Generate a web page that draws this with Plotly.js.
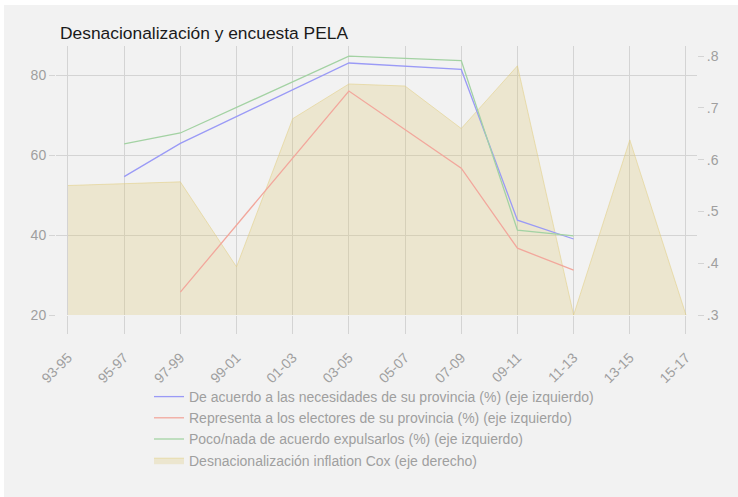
<!DOCTYPE html>
<html>
<head>
<meta charset="utf-8">
<script src="https://cdn.plot.ly/plotly-3.0.1.min.js"></script>
<style>
  html, body { margin:0; padding:0; background:#ffffff; }
  #chart { position:absolute; left:4px; top:5px; width:734px; height:492px; }
</style>
</head>
<body>
<div id="chart"></div>
<script>
const categories = ['93-95','95-97','97-99','99-01','01-03','03-05','05-07','07-09','09-11','11-13','13-15','15-17'];
const necesidades = [null, 54.6, 62.9, null, null, 83.0, null, 81.4, 43.7, 39.0, null, null];
const electores   = [null, null, 25.7, null, null, 76.0, null, 56.7, 36.7, 31.2, null, null];
const expulsarlos = [null, 62.8, 65.5, null, null, 84.7, null, 83.6, 41.2, 39.8, null, null];
const cox = [0.550, 0.554, 0.557, 0.393, 0.679, 0.746, 0.742, 0.660, 0.781, 0.300, 0.638, 0.300];

const leftTicks = [20, 40, 60, 80];
const leftTickText = ['20', '40', '60', '80'];
const rightTicks = [0.3, 0.4, 0.5, 0.6, 0.7, 0.8];
const rightTickText = ['.3', '.4', '.5', '.6', '.7', '.8'];

const names = [
  'De acuerdo a las necesidades de su provincia (%) (eje izquierdo)',
  'Representa a los electores de su provincia (%) (eje izquierdo)',
  'Poco/nada de acuerdo expulsarlos (%) (eje izquierdo)',
  'Desnacionalización inflation Cox (eje derecho)'
];

const FONT = 'Liberation Sans, Arial, sans-serif';
const GRID = '#d4d4d4';
const TXT = '#9f9f9f';

const traces = [
  {x: categories, y: necesidades, name: names[0], type: 'scatter', mode: 'lines',
   connectgaps: true, yaxis: 'y2', line: {color: '#9a9af6', width: 1.3}},
  {x: categories, y: electores, name: names[1], type: 'scatter', mode: 'lines',
   connectgaps: true, yaxis: 'y2', line: {color: '#f2a79c', width: 1.3}},
  {x: categories, y: expulsarlos, name: names[2], type: 'scatter', mode: 'lines',
   connectgaps: true, yaxis: 'y2', line: {color: '#a3d2a3', width: 1.3}},
  {x: categories, y: cox, name: names[3], type: 'scatter', mode: 'lines',
   fill: 'tozeroy', fillcolor: 'rgba(220,200,115,0.27)', yaxis: 'y',
   line: {color: 'rgba(225,205,130,0.55)', width: 1}}
];

const layout = {
  width: 734, height: 492,
  margin: {l: 52, r: 41, t: 41, b: 182, pad: 0},
  paper_bgcolor: '#f2f2f2',
  plot_bgcolor: '#f2f2f2',
  font: {family: FONT, size: 14, color: TXT},
  showlegend: true,
  title: {
    text: 'Desnacionalización y encuesta PELA',
    font: {family: FONT, size: 17.4, color: '#1a1a1a'},
    xref: 'container', x: 56/734, xanchor: 'left',
    yref: 'container', y: 1 - 28/492, yanchor: 'middle'
  },
  xaxis: {
    type: 'category',
    range: [-0.213, 11.196],
    showgrid: true, gridcolor: GRID, gridwidth: 1,
    ticks: 'outside', ticklen: 18, tickcolor: GRID, tickwidth: 1,
    ticklabelstandoff: 10,
    tickangle: -45,
    tickfont: {family: FONT, size: 14, color: TXT},
    showline: false, zeroline: false
  },
  yaxis: {
    side: 'right',
    range: [0.3, 0.3 + 269/518],
    tickvals: rightTicks, ticktext: rightTickText,
    showgrid: false, zeroline: false, showline: false,
    ticks: 'outside', ticklen: 6, tickcolor: GRID,
    tickfont: {family: FONT, size: 14, color: TXT}
  },
  yaxis2: {
    side: 'left', overlaying: 'y',
    range: [19.999, 87.25],
    tickvals: leftTicks, ticktext: leftTickText,
    showgrid: true, gridcolor: GRID, gridwidth: 1,
    zeroline: false, showline: false,
    ticks: 'outside', ticklen: 6, tickcolor: GRID,
    tickfont: {family: FONT, size: 14, color: TXT}
  },
  legend: {
    orientation: 'v',
    x: (149 - 56) / 641, xanchor: 'left',
    y: -(381 - 315) / 269, yanchor: 'top',
    bgcolor: 'rgba(0,0,0,0)',
    font: {family: FONT, size: 14, color: TXT},
    traceorder: 'normal'
  }
};

Plotly.newPlot('chart', traces, layout, {staticPlot: true, displayModeBar: false});
</script>
</body>
</html>
